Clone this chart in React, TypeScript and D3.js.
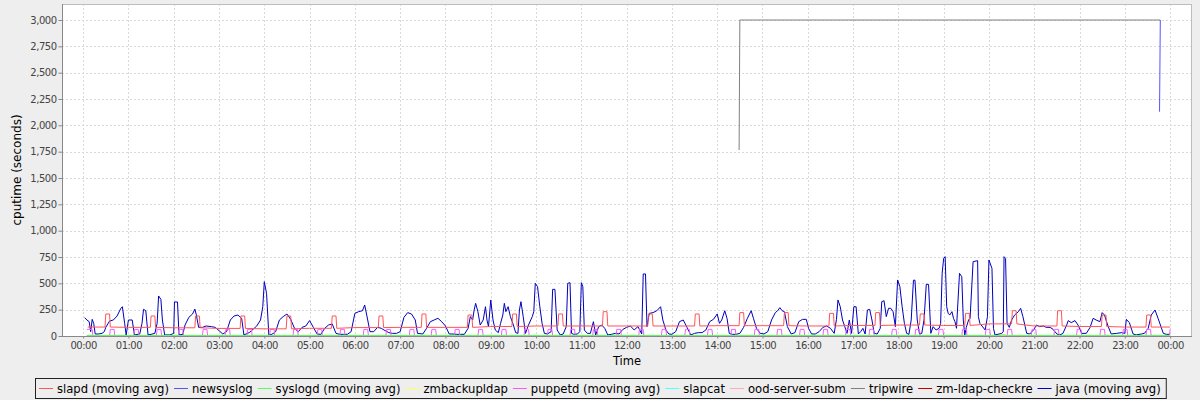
import React, { useRef, useEffect } from 'react';
import * as d3 from 'd3';

type Pt = [number, number];

const SERIES_NAMES = [
  'slapd (moving avg)', 'newsyslog', 'syslogd (moving avg)', 'zmbackupldap', 'puppetd (moving avg)',
  'slapcat', 'ood-server-subm', 'tripwire', 'zm-ldap-checkre', 'java (moving avg)',
];
const SERIES_COLORS = [
  '#ff5555', '#5555ff', '#55ff55', '#ffff55', '#ff55ff',
  '#55ffff', '#ffafaf', '#808080', '#c00000', '#0000c0',
];

const Y_TICKS = [0, 250, 500, 750, 1000, 1250, 1500, 1750, 2000, 2250, 2500, 2750, 3000];
const X_TICK_LABELS = [
  '00:00', '01:00', '02:00', '03:00', '04:00', '05:00', '06:00', '07:00', '08:00', '09:00', '10:00', '11:00',
  '12:00', '13:00', '14:00', '15:00', '16:00', '17:00', '18:00', '19:00', '20:00', '21:00', '22:00', '23:00', '00:00',
];

// minutes since midnight, cputime seconds
const javaPoints: Pt[] = [
  [2, 174], [5, 152], [8, 136], [10, 41], [12, 158], [14, 120], [16, 19], [20, 19], [25, 25], [28, 41], [30, 82],
  [35, 142], [40, 152], [45, 190], [50, 263], [52, 278], [55, 120], [57, 10], [60, 152], [65, 152], [68, 10],
  [75, 19], [78, 120], [80, 253], [83, 240], [86, 10], [90, 16], [95, 25], [98, 120], [100, 380], [103, 348],
  [105, 152], [108, 10], [115, 10], [120, 25], [121, 323], [125, 323], [127, 10], [132, 16], [135, 104], [140, 177],
  [145, 209], [148, 256], [150, 199], [153, 82], [158, 82], [163, 95], [170, 89], [175, 82], [180, 51], [185, 19],
  [190, 41], [195, 152], [200, 190], [205, 199], [210, 168], [213, 10], [220, 32], [225, 63], [230, 95], [235, 152],
  [238, 278], [240, 516], [243, 405], [246, 10], [250, 16], [255, 41], [260, 152], [265, 184], [270, 209], [275, 158],
  [280, 73], [285, 41], [290, 82], [295, 95], [300, 146], [305, 82], [310, 19], [315, 16], [320, 73], [325, 104],
  [330, 114], [335, 25], [340, 16], [345, 16], [350, 16], [355, 41], [360, 215],
  [365, 231], [370, 240], [373, 294], [377, 152], [380, 41], [385, 41], [390, 82], [395, 73], [400, 51], [405, 32],
  [410, 25], [415, 25], [420, 41], [425, 177], [430, 222], [435, 209], [440, 152], [443, 25], [450, 19], [455, 73],
  [460, 136], [465, 152], [470, 168], [475, 136], [480, 95], [485, 19], [490, 19], [495, 16], [500, 16], [505, 16],
  [510, 73], [513, 184], [516, 152], [518, 247], [520, 310], [523, 231], [526, 104], [530, 152], [533, 278], [535, 152],
  [537, 89], [540, 342], [543, 152], [546, 57], [550, 32], [553, 120], [556, 199], [558, 310], [560, 231], [563, 278],
  [566, 184], [570, 104], [573, 32], [576, 25], [578, 247], [580, 326], [583, 184], [586, 25], [590, 104], [595, 184],
  [597, 231], [599, 500], [602, 468], [605, 278], [608, 120], [611, 25], [615, 19], [620, 41], [622, 443], [625, 443],
  [628, 57], [632, 10], [636, 19], [640, 89], [642, 500], [645, 506], [647, 25], [650, 16], [655, 19], [658, 41],
  [660, 506], [662, 468], [664, 57], [668, 25], [672, 25], [676, 136], [679, 10], [683, 89], [687, 104], [691, 73],
  [695, 10], [700, 16], [705, 25], [710, 19], [715, 63], [720, 82], [725, 95], [730, 57], [735, 89], [740, 19],
  [742, 589], [745, 589], [747, 89], [750, 215], [755, 222], [760, 240], [765, 278], [768, 152], [772, 57], [776, 19],
  [780, 16], [785, 41], [790, 136], [795, 152], [800, 82], [805, 10], [810, 25], [815, 32], [820, 32], [825, 57],
  [830, 136], [835, 158], [840, 209], [843, 120], [846, 152], [850, 240], [853, 168], [856, 25], [860, 16], [865, 16],
  [870, 25], [875, 82], [880, 168], [885, 240], [888, 168], [892, 73], [897, 25], [902, 19], [907, 41], [912, 152],
  [917, 222], [920, 240], [923, 269], [926, 240], [929, 231], [933, 89], [938, 19], [943, 32], [948, 136], [953, 158],
  [958, 158], [961, 73], [965, 19], [970, 19], [975, 41], [980, 82], [985, 95], [990, 73], [995, 25], [998, 158],
  [1000, 342], [1003, 278], [1006, 152], [1009, 89], [1012, 25], [1015, 152], [1018, 25], [1021, 278], [1024, 278],
  [1027, 19], [1030, 41], [1033, 73], [1036, 19], [1039, 247], [1042, 253], [1045, 152], [1048, 25], [1052, 19],
  [1056, 73], [1058, 326], [1061, 335], [1064, 184], [1067, 263], [1070, 263], [1073, 231], [1076, 89], [1079, 532],
  [1082, 468], [1085, 278], [1088, 120], [1091, 25], [1094, 16], [1097, 152], [1100, 530], [1102, 530], [1105, 152],
  [1108, 19], [1111, 25], [1114, 152], [1117, 490], [1120, 490], [1123, 25], [1126, 89], [1130, 57], [1134, 73],
  [1136, 120], [1138, 595], [1140, 737], [1142, 753], [1144, 278], [1146, 215], [1148, 199], [1151, 231], [1153, 168],
  [1155, 136], [1157, 73], [1161, 595], [1164, 563], [1166, 152], [1168, 10], [1170, 82], [1173, 152], [1175, 168],
  [1179, 706], [1185, 715], [1186, 184], [1188, 120], [1195, 57], [1198, 184], [1200, 722], [1204, 642], [1206, 73],
  [1208, 10], [1217, 25], [1219, 41], [1220, 753], [1222, 737], [1224, 120], [1227, 82], [1230, 152], [1234, 199],
  [1239, 231], [1242, 263], [1245, 184], [1248, 89], [1250, 25], [1254, 19], [1259, 57], [1263, 104], [1267, 89],
  [1272, 95], [1276, 82], [1281, 82], [1285, 63], [1290, 19], [1294, 10], [1298, 25], [1303, 104], [1305, 146],
  [1309, 127], [1314, 146], [1318, 104], [1323, 25], [1329, 25], [1334, 82], [1338, 168], [1342, 152], [1347, 136],
  [1350, 222], [1353, 199], [1358, 89], [1362, 19], [1369, 25], [1376, 32], [1380, 25], [1382, 158], [1386, 127],
  [1391, 19], [1395, 10], [1402, 19], [1406, 25], [1411, 73], [1415, 199], [1420, 247], [1424, 168], [1431, 25],
  [1435, 16], [1440, 16],
];

// slapd: hourly base level with a short step-up near half past each hour
const slapdBase = [85, 82, 78, 72, 68, 73, 80, 82, 82, 90, 95, 95, 95, 95, 98, 98, 95, 100, 104, 100, 115, 95, 90, 85];
const slapdPeakStart = [29, 89, 148, 208, 269, 329, 391, 448, 509, 568, 629, 688, 748, 810, 869, 928, 988, 1049, 1108, 1168, 1230, 1290, 1349, 1408];
const slapdPeak = [209, 190, 190, 190, 190, 190, 190, 209, 199, 209, 209, 231, 209, 209, 222, 222, 215, 222, 209, 215, 240, 240, 199, 199];

const puppetdPulseStart = [
  6, 35, 67, 97, 126, 158, 188, 217, 247, 278, 310, 340, 371, 401, 432, 461, 492, 523, 554, 584, 615, 645, 675, 706,
  736, 766, 797, 827, 858, 889, 919, 949, 980, 1010, 1041, 1071, 1102, 1133, 1164, 1195, 1224, 1256, 1286, 1316,
  1347, 1377, 1408,
];
const puppetdLevel = 63;

const syslogdPoints: Pt[] = [[5, 5], [1215, 5], [1218, 14], [1224, 5], [1440, 5]];
const newsyslogPoints: Pt[] = [[1426, 2130], [1427, 3000]];
const tripwirePoints: Pt[] = [[869, 1766], [870, 3000], [1427, 3000]];
const zmbackupldapPoints: Pt[] = [[5, 0], [1440, 0]];
const slapcatPoints: Pt[] = [[5, 0], [1440, 0]];
const oodPoints: Pt[] = [[5, 0], [1440, 0]];
const zmLdapPoints: Pt[] = [[5, 0], [1440, 0]];

function buildSlapd(): Pt[] {
  const pts: Pt[] = [];
  slapdBase.forEach((b, h) => {
    const s = slapdPeakStart[h];
    pts.push([h === 0 ? 6 : h * 60, b], [s, b], [s + 1, slapdPeak[h]], [s + 6, slapdPeak[h]], [s + 7, b]);
  });
  pts.push([1440, slapdBase[23]]);
  return pts;
}

function buildPuppetd(): Pt[] {
  const pts: Pt[] = [[5, puppetdLevel]];
  puppetdPulseStart.forEach((s, i) => {
    if (i > 0) pts.push([s, 0], [s + 1, puppetdLevel]);
    pts.push([s + 6, puppetdLevel], [s + 7, 0]);
  });
  pts.push([1439, 0], [1440, puppetdLevel]);
  return pts;
}

const FONT = 'DejaVu Sans, Verdana, sans-serif';

const App: React.FC = () => {
  const svgRef = useRef<SVGSVGElement>(null);

  useEffect(() => {
    if (!svgRef.current) return;
    const W = 1200, H = 400;
    const plot = { left: 62, right: 1192, top: 4, bottom: 336 };

    const svg = d3.select(svgRef.current);
    svg.selectAll('*').remove();
    svg.attr('width', W).attr('height', H).attr('viewBox', `0 0 ${W} ${H}`);

    svg.append('rect').attr('width', W).attr('height', H).attr('fill', '#eeeeee');

    const x = d3.scaleLinear().domain([-28, 1469]).range([plot.left, plot.right]);
    const y = d3.scaleLinear().domain([0, 3152]).range([plot.bottom, plot.top]);
    const hourTicks = X_TICK_LABELS.map((_, i) => i * 60);

    svg.append('rect')
      .attr('x', plot.left).attr('y', plot.top)
      .attr('width', plot.right - plot.left).attr('height', plot.bottom - plot.top)
      .attr('fill', '#ffffff');

    // Grid lines
    const grid = svg.append('g').attr('stroke', '#d9d9d9').attr('stroke-width', 1).attr('stroke-dasharray', '2,2');
    grid.selectAll('line.h')
      .data(Y_TICKS.filter(d => d > 0))
      .join('line')
      .attr('x1', plot.left).attr('x2', plot.right)
      .attr('y1', d => Math.round(y(d)) + 0.5).attr('y2', d => Math.round(y(d)) + 0.5);
    grid.selectAll('line.v')
      .data(hourTicks)
      .join('line')
      .attr('x1', d => Math.round(x(d)) + 0.5).attr('x2', d => Math.round(x(d)) + 0.5)
      .attr('y1', plot.top).attr('y2', plot.bottom);

    // Series
    svg.append('defs').append('clipPath').attr('id', 'plotClip')
      .append('rect')
      .attr('x', plot.left).attr('y', plot.top)
      .attr('width', plot.right - plot.left).attr('height', plot.bottom - plot.top);

    const seriesData: Pt[][] = [
      buildSlapd(), newsyslogPoints, syslogdPoints, zmbackupldapPoints, buildPuppetd(),
      slapcatPoints, oodPoints, tripwirePoints, zmLdapPoints, javaPoints,
    ];

    const line = d3.line<Pt>().x(d => x(d[0])).y(d => y(d[1]));
    const lines = svg.append('g').attr('clip-path', 'url(#plotClip)');
    // first series drawn on top
    for (let i = seriesData.length - 1; i >= 0; i--) {
      lines.append('path')
        .datum(seriesData[i])
        .attr('d', line)
        .attr('fill', 'none')
        .attr('stroke', SERIES_COLORS[i])
        .attr('stroke-width', 1)
        .attr('stroke-linejoin', 'miter');
    }

    // Plot outline
    svg.append('rect')
      .attr('x', plot.left + 0.5).attr('y', plot.top + 0.5)
      .attr('width', plot.right - plot.left - 1).attr('height', plot.bottom - plot.top)
      .attr('fill', 'none').attr('stroke', '#bdbdbd');

    // Y axis
    const yAxis = svg.append('g')
      .attr('transform', `translate(${plot.left + 0.5},0)`)
      .call(d3.axisLeft(y).tickValues(Y_TICKS).tickSize(4).tickPadding(2).tickFormat(d3.format(',')));
    yAxis.select('.domain').attr('stroke', '#888888').attr('d', `M0,${plot.top}V${plot.bottom}`);
    yAxis.selectAll('.tick line').attr('stroke', '#888888');
    yAxis.selectAll('text')
      .attr('fill', '#444444').attr('font-size', '10px').attr('font-family', FONT)
      .attr('letter-spacing', '-0.5px');

    // X axis
    const xAxis = svg.append('g')
      .attr('transform', `translate(0,${plot.bottom + 0.5})`)
      .call(d3.axisBottom(x).tickValues(hourTicks).tickSize(2).tickPadding(3).tickFormat((_, i) => X_TICK_LABELS[i]));
    xAxis.select('.domain').attr('stroke', '#888888').attr('d', `M${plot.left},0H${plot.right}`);
    xAxis.selectAll('.tick line').attr('stroke', '#888888');
    xAxis.selectAll('text')
      .attr('fill', '#444444').attr('font-size', '10px').attr('font-family', FONT)
      .attr('letter-spacing', '-0.5px');

    // Axis titles
    svg.append('text')
      .attr('x', (plot.left + plot.right) / 2).attr('y', 365)
      .attr('text-anchor', 'middle').attr('font-size', '11.5px').attr('font-family', FONT).attr('fill', '#000')
      .text('Time');
    svg.append('text')
      .attr('transform', `translate(21,${(plot.top + plot.bottom) / 2}) rotate(-90)`)
      .attr('text-anchor', 'middle').attr('font-size', '12px').attr('font-family', FONT).attr('fill', '#000')
      .text('cputime (seconds)');

    // Legend
    const legend = svg.append('g');
    const box = legend.append('rect').attr('fill', 'none').attr('stroke', '#222222').attr('stroke-width', 1);
    const items = SERIES_NAMES.map((name, i) => {
      const g = legend.append('g');
      g.append('line').attr('x1', 0).attr('x2', 14).attr('y1', 388.5).attr('y2', 388.5)
        .attr('stroke', SERIES_COLORS[i]).attr('stroke-width', 1);
      const t = g.append('text').attr('x', 18).attr('y', 392.5)
        .attr('font-size', '11.6px').attr('font-family', FONT).attr('fill', '#000').text(name);
      const w = (t.node() as SVGTextElement).getComputedTextLength();
      return { g, w: 18 + w };
    });
    const gap = 5;
    const total = 4 + d3.sum(items, d => d.w) + gap * (items.length - 1) + 5;
    let cx = Math.round(W / 2 - total / 2);
    box.attr('x', cx + 0.5).attr('y', 378.5).attr('width', total).attr('height', 20);
    cx += 4;
    items.forEach(it => {
      it.g.attr('transform', `translate(${cx},0)`);
      cx += it.w + gap;
    });
  }, []);

  return (
    <svg ref={svgRef} style={{ position: 'fixed', left: 0, top: 0, display: 'block' }} />
  );
};

export default App;
